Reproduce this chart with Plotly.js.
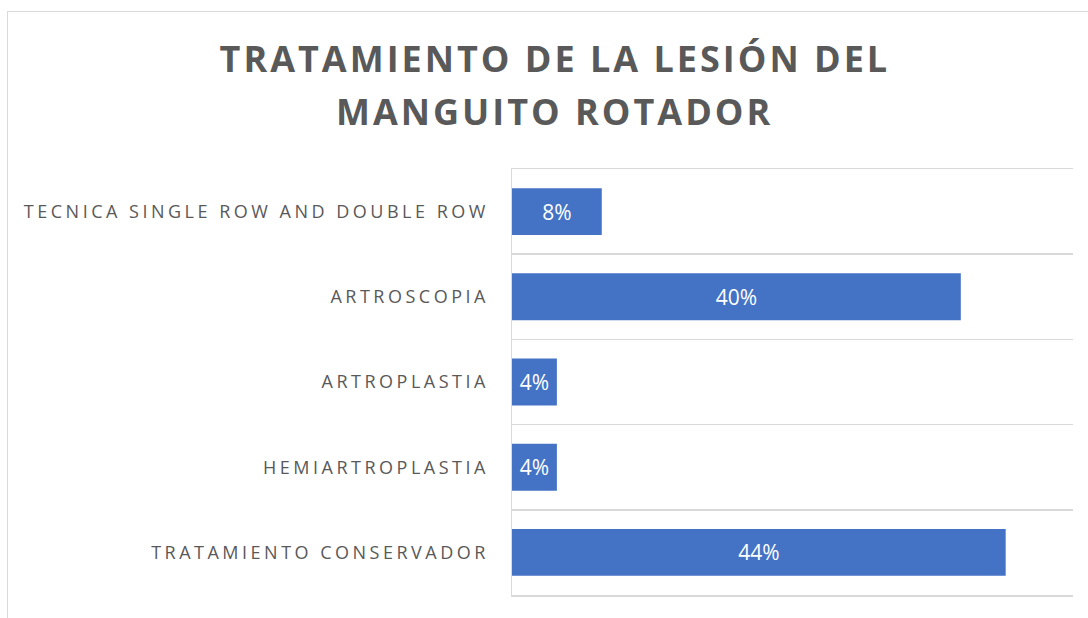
<!DOCTYPE html>
<html>
<head>
<meta charset="utf-8">
<script src="https://cdn.plot.ly/plotly-3.0.1.min.js"></script>
<style>
  html, body { margin: 0; padding: 0; background: #fff; }
  #wrap { position: relative; width: 1088px; height: 618px; overflow: hidden; }
  #chart { width: 1088px; height: 618px; }
  #frame { position: absolute; left: 7px; top: 11px; width: 1200px; height: 700px;
           border: 1.5px solid #d9d9d9; pointer-events: none; }
  .gtitle, .annotation-text { letter-spacing: 3px; }
  .ytick text { letter-spacing: 3.5px; }
</style>
</head>
<body>
<div id="wrap">
  <div id="chart"></div>
  <div id="frame"></div>
</div>
<script>
const categories = [
  "TRATAMIENTO CONSERVADOR",
  "HEMIARTROPLASTIA",
  "ARTROPLASTIA",
  "ARTROSCOPIA",
  "TECNICA SINGLE ROW AND DOUBLE ROW"
];
const values = [44, 4, 4, 40, 8];
const labels = values.map(v => v + "%");
const titleLine1 = "TRATAMIENTO DE LA LESIÓN DEL";
const titleLine2 = "MANGUITO ROTADOR";

const titleFont = { family: "Open Sans, sans-serif", size: 36, color: "#595959", weight: 700 };

const trace = {
  type: "bar",
  orientation: "h",
  y: categories,
  x: values,
  text: labels,
  textposition: "inside",
  insidetextanchor: "middle",
  constraintext: "none",
  textfont: { family: "Open Sans, sans-serif", size: 21, color: "#ffffff" },
  marker: { color: "#4472c4" },
  hoverinfo: "none"
};

const layout = {
  width: 1088,
  height: 618,
  margin: { l: 512, r: 15, t: 169, b: 23 },
  paper_bgcolor: "rgba(0,0,0,0)",
  plot_bgcolor: "rgba(0,0,0,0)",
  showlegend: false,
  bargap: 0.45,
  title: {
    text: titleLine1,
    x: 0.510,
    xref: "container",
    xanchor: "center",
    y: 0.925,
    yref: "container",
    yanchor: "top",
    font: titleFont
  },
  annotations: [{
    text: titleLine2,
    xref: "paper",
    yref: "paper",
    x: 0.0749,
    y: 1.136,
    xanchor: "center",
    yanchor: "middle",
    showarrow: false,
    font: titleFont
  }],
  xaxis: {
    range: [0, 50],
    showgrid: false,
    zeroline: false,
    showticklabels: false,
    ticks: "",
    showline: true,
    mirror: true,
    linecolor: "#d9d9d9",
    linewidth: 1.5
  },
  yaxis: {
    type: "category",
    tickson: "boundaries",
    showgrid: true,
    gridcolor: "#d9d9d9",
    gridwidth: 1.5,
    showline: true,
    linecolor: "#d9d9d9",
    linewidth: 1.5,
    ticks: "",
    ticklabelstandoff: 18,
    tickfont: { family: "Open Sans, sans-serif", size: 18, color: "#595959" },
    range: [-0.5, 4.5]
  }
};

Plotly.newPlot("chart", [trace], layout, { displayModeBar: false, staticPlot: true });
</script>
</body>
</html>
